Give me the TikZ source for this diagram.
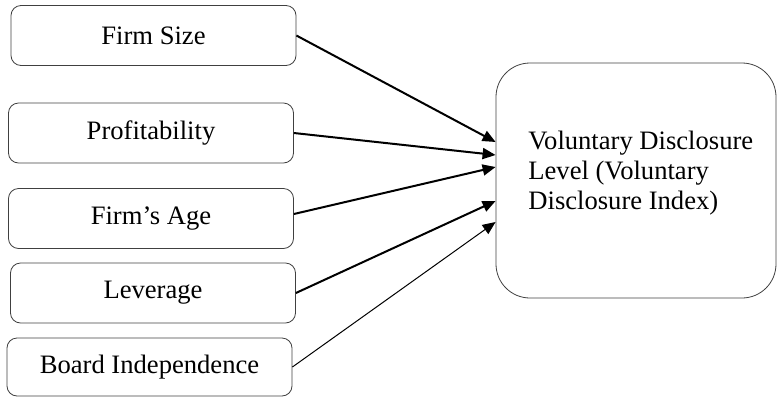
\documentclass[tikz,border=0pt]{standalone}
\usepackage{fontspec}
\setmainfont{Liberation Serif}
\usetikzlibrary{arrows.meta,positioning,calc}
\tikzset{
  factor/.style={
    draw=black!75,
    rounded corners=5pt,
    minimum width=142.5pt,
    minimum height=30pt,
    inner sep=0pt,
    font=\fontsize{13.3}{15}\selectfont
  },
  outcome/.style={
    draw=black!75,
    rounded corners=17pt,
    minimum width=140pt,
    minimum height=117.5pt
  },
  link/.style={
    -{Triangle[length=6.5pt,width=5.5pt]},
    line width=1pt
  }
}

\begin{document}
\begin{tikzpicture}[x=0.5pt, y=-0.5pt]
   \useasboundingbox (0,0) rectangle (778,397);
   \node[factor] (size)   at (153.5,35.5) {Firm Size};
   \node[factor] (profit) at (151,133)    {Profitability};
   \node[factor] (age)    at (151,218.5)  {Firm’s Age};
   \node[factor] (lev)    at (153,293)    {Leverage};
   \node[factor, minimum height=29pt] (board) at (149.5,367) {Board Independence};
   \node[outcome] (vdl) at (636,180.5) {};
   \node[anchor=north west, align=left, inner sep=0pt,
         font=\fontsize{13.3}{15}\selectfont] (vdltext) at (528,131)
         {Voluntary Disclosure\\Level (Voluntary\\Disclosure Index)};

\draw[link] (size.east)   -- ($(vdl.west)+(0,-38.5)$);
\draw[link] (profit.east) -- ($(vdl.west)+(0,-25.5)$);
\draw[link] ([yshift=2.25pt]age.east) -- ($(vdl.west)+(0,-13.5)$);
\draw[link] (lev.east)    -- ($(vdl.west)+(0,20.5)$);
\draw[link, line width=0.5pt] (board.east) -- ($(vdl.west)+(0,41.5)$);
\end{tikzpicture}
\end{document}
